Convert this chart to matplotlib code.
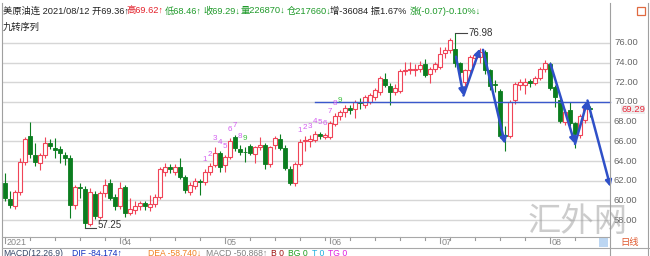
import matplotlib
matplotlib.use("Agg")
import matplotlib.pyplot as plt
from matplotlib.patches import Rectangle
import matplotlib.transforms as mtrans
import pandas as pd

# ---------------- data ----------------
trade_days = pd.bdate_range("2021-03-01", "2021-08-12")
trade_days = trade_days[trade_days != pd.Timestamp("2021-04-02")]

opens = [61.8, 60.2, 59.4, 60.9, 63.9, 66.5, 64.6, 63.8, 64.6, 65.8,
         65.3, 65.2, 64.6, 64.3, 59.5, 61.4, 61.2, 57.6, 60.7, 58.3,
         60.8, 61.8, 60.4, 59.4, 61.4, 58.7, 59.0, 59.4, 59.7, 59.3,
         59.6, 60.4, 62.9, 63.4, 62.9, 63.4, 62.4, 60.9, 61.5, 62.0,
         61.9, 62.9, 63.6, 64.8, 63.6, 64.4, 66.4, 65.2, 64.95, 65.5,
         64.7, 65.4, 65.6, 63.7, 65.6, 66.2, 65.3, 63.2, 61.8, 63.7,
         66.0, 66.0, 66.15, 66.75, 66.4, 66.4, 67.8, 68.6, 69.0, 69.4,
         69.25, 70.0, 69.7, 70.0, 70.5, 71.0, 72.3, 71.6, 71.05, 71.1,
         73.1, 73.2, 73.2, 73.4, 73.9, 72.8, 73.3, 73.6, 74.95, 75.3,
         75.4, 74.0, 72.0, 73.2, 74.5, 74.6, 75.1, 73.2, 71.8, 71.1,
         66.7, 66.5, 70.2, 71.7, 71.7, 72.1, 71.9, 72.4, 73.3, 73.9,
         71.5, 70.2, 68.0, 69.2, 67.9, 66.6, 68.2, 69.36]
highs = [62.8, 61.0, 61.1, 64.3, 66.4, 67.98, 65.8, 64.8, 66.4, 66.2,
         66.3, 65.5, 64.9, 64.6, 61.6, 61.8, 61.5, 61.3, 61.0, 61.0,
         62.2, 62.2, 60.7, 61.9, 61.6, 60.3, 59.9, 59.9, 59.9, 60.6,
         60.7, 63.4, 63.8, 63.7, 63.7, 64.3, 62.6, 61.9, 62.3, 62.2,
         63.2, 63.8, 65.4, 65.0, 64.6, 66.3, 66.7, 65.6, 65.4, 65.7,
         65.5, 66.4, 65.8, 65.5, 66.5, 66.8, 65.6, 63.5, 63.9, 66.2,
         66.5, 66.6, 67.1, 67.0, 66.9, 68.1, 68.9, 69.2, 69.7, 69.7,
         70.2, 70.4, 70.7, 70.9, 71.4, 72.6, 72.9, 71.9, 71.8, 73.3,
         74.1, 74.1, 73.9, 74.2, 74.4, 73.6, 74.1, 75.6, 75.6, 76.5,
         76.98, 74.1, 73.4, 74.8, 75.0, 75.5, 75.3, 73.4, 72.2, 71.3,
         67.6, 70.2, 72.0, 72.3, 72.4, 72.3, 72.6, 73.6, 74.3, 74.1,
         71.7, 70.6, 69.3, 70.0, 68.0, 68.8, 69.9, 69.62]
lows = [59.9, 59.2, 59.1, 60.6, 63.6, 64.3, 63.5, 63.1, 64.3, 65.2,
        64.3, 63.8, 63.6, 58.2, 59.1, 60.3, 57.25, 57.4, 58.1, 58.1,
        60.4, 60.0, 59.0, 59.1, 58.3, 58.5, 58.6, 59.0, 59.0, 58.9,
        59.3, 60.2, 62.5, 62.8, 62.6, 62.2, 60.8, 60.6, 61.2, 60.6,
        61.6, 62.6, 63.4, 62.9, 62.9, 64.2, 65.0, 64.6, 63.9, 64.6,
        63.8, 65.1, 63.2, 63.4, 65.2, 65.1, 63.1, 61.6, 61.5, 63.5,
        65.0, 65.4, 65.9, 66.2, 66.2, 66.2, 67.6, 68.2, 68.5, 68.8,
        68.4, 69.3, 69.4, 69.8, 70.2, 70.7, 71.5, 69.7, 70.7, 70.9,
        72.7, 72.8, 72.6, 73.0, 72.5, 71.9, 73.0, 73.3, 74.5, 75.0,
        73.6, 72.3, 71.5, 72.9, 73.9, 74.0, 72.8, 71.2, 71.0, 66.3,
        65.0, 66.3, 69.8, 71.2, 70.8, 71.5, 71.7, 72.2, 73.0, 71.2,
        69.5, 67.9, 67.7, 67.6, 65.3, 66.3, 67.9, 68.46]
closes = [60.3, 59.5, 60.9, 63.9, 66.2, 64.7, 63.9, 64.6, 65.8, 65.5,
          65.1, 64.8, 64.3, 59.5, 61.4, 61.3, 57.7, 60.9, 58.4, 60.8,
          61.6, 60.3, 59.4, 61.3, 58.7, 59.1, 59.4, 59.7, 59.4, 59.6,
          60.4, 63.2, 63.4, 63.2, 63.4, 62.4, 61.1, 61.6, 62.0, 61.9,
          62.9, 63.5, 64.8, 63.4, 64.4, 66.0, 65.3, 64.9, 64.9, 64.8,
          65.4, 65.6, 63.7, 65.4, 66.3, 65.3, 63.3, 61.8, 63.7, 65.9,
          66.1, 66.2, 66.75, 66.5, 66.6, 67.9, 68.6, 69.0, 69.4, 69.2,
          70.0, 69.9, 70.5, 70.7, 71.2, 72.4, 71.7, 71.05, 71.4, 73.1,
          73.25, 73.3, 73.4, 73.8, 72.75, 73.3, 73.9, 74.9, 75.3, 76.25,
          74.0, 73.0, 73.2, 74.6, 74.8, 75.1, 73.2, 71.6, 71.7, 66.5,
          66.5, 70.0, 71.8, 72.0, 72.0, 71.9, 72.4, 73.4, 74.0, 71.4,
          70.5, 68.1, 69.0, 67.9, 66.8, 68.6, 69.36, 69.29]

# TD sequential ("九转序列") counts: start index of each run of 1..9
td_starts = [40, 59]
td_labels = ["1", "2", "3", "4", "5", "6", "7", "8", "9"]

# hand drawn trend arrows (index, price)
arrows = [((90.2, 74.6), (91.7, 70.66)),
          ((91.7, 70.66), (95.0, 75.43)),
          ((95.6, 75.3), (100.0, 65.74)),
          ((109.1, 73.86), (114.0, 65.74)),
          ((114.0, 65.74), (116.5, 70.15)),
          ((116.5, 70.15), (121.1, 61.37))]
hline_price = 69.95
hline_start = 62

price_ticks = [58, 60, 62, 64, 66, 68, 70, 72, 74, 76]
last_price = 69.29

header = [("美原油连 2021/08/12 开69.36↑", 3, "#222222"),
          ("高69.62↑", 126.5, "#e3202a"),
          ("低68.46↑", 165, "#1f9a2a"),
          ("收69.29↓", 203, "#1f9a2a"),
          ("量226870↓", 240.5, "#1f9a2a"),
          ("仓217660↓", 286.5, "#1f9a2a"),
          ("增-36084 振1.67%", 330, "#222222"),
          ("涨(-0.07)-0.10%↓", 410, "#1f9a2a")]
macd_row = [("MACD(12,26,9)", 3, "#334466"),
            ("DIF -84.174↑", 72, "#1030c0"),
            ("DEA -58.740↓", 148, "#f08020"),
            ("MACD -50.868↑", 206, "#808080"),
            ("B 0", 258, "#a01010"),
            ("BG 0", 273, "#20a020"),
            ("T 0", 298, "#20b0e0"),
            ("TG 0", 315, "#e020e0")]

# ---------------- figure ----------------
W, H = 650, 256
fig = plt.figure(figsize=(6.5, 2.56), dpi=100)
fig.patch.set_facecolor("white")

FONT = ["Liberation Sans", "Noto Sans CJK SC", "DejaVu Sans"]
CJK = ["Noto Sans CJK SC", "DejaVu Sans"]

ax_left, ax_right, ax_top, ax_bot = 2, 610, 17, 236.7
ax = fig.add_axes([ax_left / W, 1 - ax_bot / H, (ax_right - ax_left) / W,
                   (ax_bot - ax_top) / H])
ax.set_facecolor("none")
for s in ax.spines.values():
    s.set_visible(False)
ax.set_xticks([])
ax.set_yticks([])

# px: x = 5 + 5*i ; y: 70 at 102, 9.85 px per unit
ax.set_xlim((ax_left - 5) / 5, (ax_right - 5) / 5)
ax.set_ylim(70 - (ax_bot - 102) / 9.85, 70 + (102 - ax_top) / 9.85)

for p in price_ticks:
    ax.axhline(p, color="#d6d6d6", lw=1.0, zorder=0)

RED = "#f04458"
GREEN = "#0b7d1f"
bw = 0.7
for i in range(len(opens)):
    o, h, l, c = opens[i], highs[i], lows[i], closes[i]
    if c >= o:
        col = RED
        ax.plot([i, i], [l, o], color=col, lw=0.8, zorder=2, solid_capstyle="butt")
        ax.plot([i, i], [c, h], color=col, lw=0.8, zorder=2, solid_capstyle="butt")
        ax.add_patch(Rectangle((i - bw / 2, o), bw, max(c - o, 0.04),
                               facecolor="white", edgecolor=col, lw=0.8, zorder=3))
    else:
        col = GREEN
        ax.plot([i, i], [l, h], color=col, lw=0.8, zorder=2, solid_capstyle="butt")
        ax.add_patch(Rectangle((i - bw / 2, c), bw, max(o - c, 0.04),
                               facecolor=col, edgecolor=col, lw=0.6, zorder=3))

# TD sequential labels
for st in td_starts:
    for k, lab in enumerate(td_labels):
        idx = st + k
        colr = "#3cc03c" if lab == "9" else "#d35ff0"
        ax.annotate(lab, (idx, highs[idx]), xytext=(0, 4), textcoords="offset points",
                    ha="center", va="bottom", fontsize=5.8, color=colr,
                    family=FONT, zorder=5, annotation_clip=False)

# high / low marks
hi_i = max(range(len(highs)), key=lambda k: highs[k])
lo_i = min(range(len(lows)), key=lambda k: lows[k])
ax.plot([hi_i, hi_i + 2.4], [highs[hi_i]] * 2, color="#444444", lw=0.8, zorder=5)
ax.text(hi_i + 2.6, highs[hi_i], f"{highs[hi_i]:.2f}", fontsize=7, color="#333333",
        va="center", ha="left", family=FONT, zorder=5)
ax.plot([lo_i, lo_i + 2.2], [lows[lo_i]] * 2, color="#444444", lw=0.8, zorder=5)
ax.text(lo_i + 2.6, lows[lo_i] + 0.3, f"{lows[lo_i]:.2f}", fontsize=7, color="#333333",
        va="center", ha="left", family=FONT, zorder=5)

# blue horizontal line and arrows
ax.plot([hline_start, (ax_right - 5) / 5], [hline_price] * 2, color="#3a58cc",
        lw=1.0, zorder=4, clip_on=False)
for (x0, y0), (x1, y1) in arrows:
    ax.annotate("", xy=(x1, y1), xytext=(x0, y0),
                arrowprops=dict(arrowstyle="-|>", color="#2f50c8", lw=1.8,
                                mutation_scale=9, shrinkA=0, shrinkB=0),
                zorder=6, annotation_clip=False)

# right price labels
yx = mtrans.blended_transform_factory(fig.transFigure, ax.transData)
for p in price_ticks:
    fig.text(614 / W, p, f"{p:.2f}", transform=yx, fontsize=6.8, color="#666666",
             va="center", ha="left", family=FONT)
fig.text(621 / W, last_price - 0.08, f"{last_price:.2f}", transform=yx, fontsize=6.8,
         color="#e8283a", va="center", ha="left", family=FONT,
         bbox=dict(boxstyle="square,pad=0.02", facecolor="#eeeeee", edgecolor="none"))

# date ticks
xt = mtrans.blended_transform_factory(ax.transData, fig.transFigure)
month_seen = set()
for i, d in enumerate(trade_days):
    key = (d.year, d.month)
    if key not in month_seen:
        month_seen.add(key)
        lab = "2021" if i == 0 else f"{d.month:02d}"
        ax.plot([i, i], [1 - ax_bot / H, 1 - (ax_bot + 6) / H], transform=xt,
                color="#999999", lw=0.8, clip_on=False)
        ax.text(i + 0.35, 1 - 242.5 / H, lab, transform=xt, fontsize=6.5,
                color="#888888", va="center", ha="left", family=FONT)
    elif d.weekday() == 0:
        ax.plot([i, i], [1 - ax_bot / H, 1 - (ax_bot + 3) / H], transform=xt,
                color="#999999", lw=0.8, clip_on=False)

# ---------------- overlay (pixel coordinates) ----------------
ov = fig.add_axes([0, 0, 1, 1], zorder=10)
ov.set_xlim(0, W)
ov.set_ylim(H, 0)
ov.axis("off")
ov.patch.set_alpha(0)

ov.plot([2, 2], [3, H], color="#a0a0a0", lw=0.8)
ov.plot([610, 610], [3, H], color="#a0a0a0", lw=0.8)
ov.plot([647.5, 647.5], [3, H], color="#a0a0a0", lw=0.8)
ov.plot([2, 610], [ax_bot, ax_bot], color="#a8a8a8", lw=0.8)
ov.plot([2, 650], [248, 248], color="#a8a8a8", lw=0.8)

for txt, x, c in header:
    ov.text(x, 11, txt, fontsize=6.7, color=c, va="center", ha="left", family=FONT)
ov.text(3, 27, "九转序列", fontsize=6.7, color="#222222", va="center", ha="left", family=CJK)

# MACD row: keep reference starts, but never overlap the previous item
renderer = fig.canvas.get_renderer()
inv = ov.transData.inverted()
prev_end = -10
for txt, x, c in macd_row:
    xs = max(x, prev_end + 4)
    t = ov.text(xs, 253, txt, fontsize=6.2, color=c, va="center", ha="left", family=FONT)
    bb = t.get_window_extent(renderer=renderer)
    prev_end = inv.transform((bb.x1, bb.y1))[0]

ov.add_patch(Rectangle((636.5, 7), 8, 7.5, facecolor="none", edgecolor="#e06a40", lw=0.9))
ov.add_patch(Rectangle((599, 237.5), 9, 9.5, facecolor="#bcd6f2", edgecolor="none"))
ov.text(620, 242.5, "日线", fontsize=6.7, color="#e05a30", va="center", ha="left", family=CJK)

# watermark (semi-transparent, lies over the chart like in the reference)
ov.text(578, 222, "汇外网", fontsize=24, color="#9a9a9a", alpha=0.5, va="center",
        ha="center", family=CJK, fontweight="light")

fig.savefig("out.png", dpi=100, facecolor="white")
